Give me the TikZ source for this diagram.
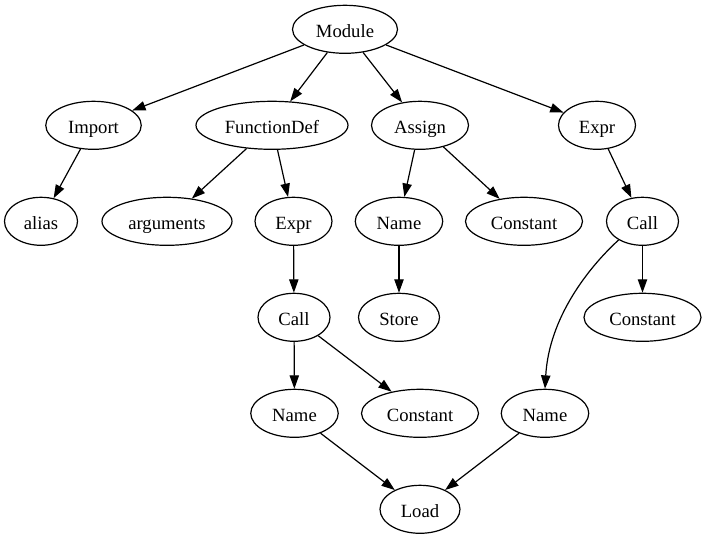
\documentclass[tikz,border=0pt]{standalone}
\usepackage{fontspec}
\setmainfont{Liberation Serif}
\usetikzlibrary{arrows.meta,shapes.geometric}
\begin{document}
\begin{tikzpicture}[x=0.75pt,y=-0.75pt,
  nd/.style={draw=black,ellipse,line width=0.9pt,inner sep=0pt,minimum height=36pt,
    text height=15pt,text depth=3pt,
    font=\fontsize{14}{16}\selectfont},
  edge/.style={draw=black,line width=0.9pt,-{Triangle[length=10pt,width=7pt]}}]
\fill[white] (0,0) rectangle (707,539);
\useasboundingbox (0,0) rectangle (707,539);
% row 0
\node[nd,minimum width=78.75pt] (module) at (345,29.3) {Module};
% row 1
\node[nd,minimum width=71.6pt] (import) at (93.5,125.3) {Import};
\node[nd,minimum width=114pt] (funcdef) at (272,125.3) {FunctionDef};
\node[nd,minimum width=72.75pt] (assign) at (420,125.3) {Assign};
\node[nd,minimum width=57.75pt] (exprR) at (597,125.3) {Expr};
% row 2
\node[nd,minimum width=54.75pt] (alias) at (41,221.3) {alias};
\node[nd,minimum width=97.5pt] (args) at (167,221.3) {arguments};
\node[nd,minimum width=57.75pt] (exprM) at (293.5,221.3) {Expr};
\node[nd,minimum width=65.6pt] (nameA) at (399,221.3) {Name};
\node[nd,minimum width=87.75pt] (constA) at (524,221.3) {Constant};
\node[nd,minimum width=54pt] (callR) at (642.5,221.3) {Call};
% row 3
\node[nd,minimum width=54pt] (callM) at (294,317.3) {Call};
\node[nd,minimum width=60.75pt] (store) at (399,317.3) {Store};
\node[nd,minimum width=87.75pt] (constR) at (642.5,317.3) {Constant};
% row 4
\node[nd,minimum width=65.6pt] (nameM) at (294.5,413.3) {Name};
\node[nd,minimum width=87.75pt] (constM) at (420,413.3) {Constant};
\node[nd,minimum width=65.6pt] (nameR) at (545,413.3) {Name};
% row 5
\node[nd,minimum width=60pt] (load) at (420,509.3) {Load};
% edges
\draw[edge] (module) -- (import);
\draw[edge] (module) -- (funcdef);
\draw[edge] (module) -- (assign);
\draw[edge] (module) -- (exprR);
\draw[edge] (import) -- (alias);
\draw[edge] (funcdef) -- (args);
\draw[edge] (funcdef) -- (exprM);
\draw[edge] (assign) -- (nameA);
\draw[edge] (assign) -- (constA);
\draw[edge] (exprR) -- (callR);
\draw[edge] (exprM) -- (callM);
\draw[edge] (nameA) -- (store);
\draw[edge] (callR) -- (constR);
\draw[edge] (callR.218) .. controls (588,268) and (549,318) .. (nameR.north);
\draw[edge] (callM) -- (nameM);
\draw[edge] (callM) -- (constM);
\draw[edge] (nameM) -- (load);
\draw[edge] (nameR) -- (load);
\end{tikzpicture}
\end{document}
